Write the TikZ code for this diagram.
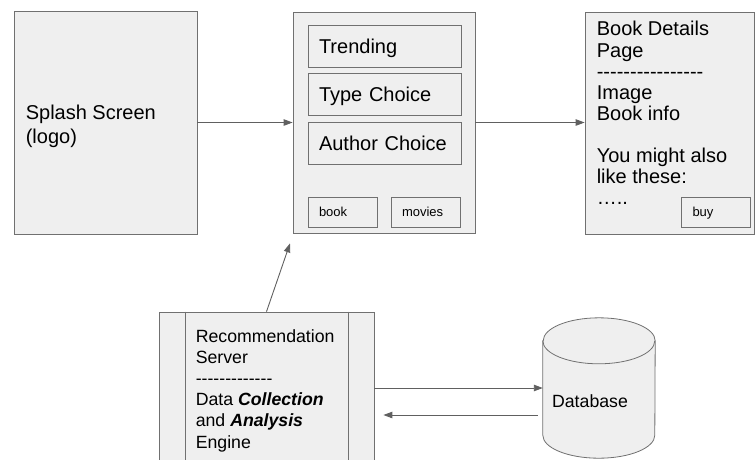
\documentclass[tikz,border=0pt]{standalone}
\usepackage{fontspec}
\newfontfamily\uifont{Liberation Sans}
\usetikzlibrary{arrows.meta}
\definecolor{boxfill}{HTML}{EFEFEF}
\definecolor{boxline}{HTML}{707070}
\definecolor{linkgray}{HTML}{606060}
\tikzset{%
  screen/.style={draw=boxline,fill=boxfill,line width=0.8pt,inner sep=0pt},
  big/.style={font=\uifont\fontsize{20}{21.3}\selectfont},
  mid/.style={font=\uifont\fontsize{17.7}{21.2}\selectfont},
  small/.style={font=\uifont\fontsize{13}{15}\selectfont},
  % boxes inside the menu screen
  pane/.style={screen,big,minimum width=153pt,minimum height=42pt,
    text width=131pt,text depth=0pt,inner xsep=11pt,align=left},
  button/.style={screen,small,minimum width=69pt,minimum height=30pt,
    text width=47pt,text depth=0pt,inner xsep=11pt,align=left},
  link/.style={draw=linkgray,line width=0.9pt,-{Triangle[length=9pt,width=6.5pt]}},
}
\newcommand{\Cylinder}[1]{% database drum round node #1
  \path[screen] ([yshift=-23pt]#1.north west) -- ([yshift=23pt]#1.south west)
    arc[start angle=180,end angle=360,x radius=56pt,y radius=23pt]
    -- ([yshift=-23pt]#1.north east)
    arc[start angle=0,end angle=180,x radius=56pt,y radius=23pt] -- cycle;
  \draw[boxline,line width=0.8pt] ([yshift=-23pt]#1.north west)
    arc[start angle=180,end angle=360,x radius=56pt,y radius=23pt];
}
\begin{document}
\begin{tikzpicture}[x=1pt,y=-1pt]
  \useasboundingbox (0,0) rectangle (755,459);
  % top row of screens
  \node[screen,minimum width=183pt,minimum height=223pt] (splash) at (105.5,122.5) {};
  \node[big,anchor=north west,inner sep=0pt,align=left] (logo)
    at ([xshift=12pt,yshift=-94.5pt]splash.north west) {Splash Screen\\[2.5pt](logo)};
  \node[screen,minimum width=182pt,minimum height=221pt] (menu) at (384,122.5) {};
  \node[pane] (trend) at (384.5,46) {Trending};
  \node[pane] (type) at (384.5,94) {Type Choice};
  \node[pane] (author) at (384.5,143) {Author Choice};
  \node[button] (book) at (342.5,212) {book};
  \node[button] (movies) at (425.5,212) {movies};
  \node[screen,minimum width=169pt,minimum height=222pt] (details) at (669.5,123) {};
  \node[big,anchor=north west,inner sep=0pt,align=left] (info)
    at ([xshift=12pt,yshift=-9.5pt]details.north west)
    {Book Details\\Page\\----------------\\Image\\Book info\\[20pt]You might also\\like these:\\…..};
  \node[button,minimum width=68pt] (buy) at (716,212) {buy};
  % server and database
  \node[screen,minimum width=215pt,minimum height=158pt] (server) at (266.5,391) {};
  \draw[boxline,line width=0.8pt] ([xshift=27pt]server.north west) -- ([xshift=27pt]server.south west);
  \draw[boxline,line width=0.8pt] ([xshift=-26pt]server.north east) -- ([xshift=-26pt]server.south east);
  \node[mid,anchor=north west,inner sep=0pt,align=left] (engine)
    at ([xshift=37pt,yshift=-17.4pt]server.north west)
    {Recommendation\\Server\\-------------\\Data \textbf{\textit{Collection}}\\and \textbf{\textit{Analysis}}\\Engine};
  \node[minimum width=112pt,minimum height=140pt,inner sep=0pt] (db) at (599,388) {};
  \Cylinder{db}
  \node[mid] (dblabel) at ([xshift=-9pt,yshift=-13pt]db.center) {Database};
  % links
  \draw[link] (splash) -- (menu);
  \draw[link] (menu.east) -- (menu.east -| details.west);
  \draw[link] (server.north) -- ([xshift=-94pt,yshift=-10pt]menu.south);
  \draw[link] (server.east |- db.west) -- (db.west);
  \coordinate (back) at ([xshift=-5pt,yshift=-27pt]db.west);
  \path (server.east |- back) coordinate (backend);
  \draw[link] (back) -- ([xshift=9pt]backend);
\end{tikzpicture}
\end{document}
